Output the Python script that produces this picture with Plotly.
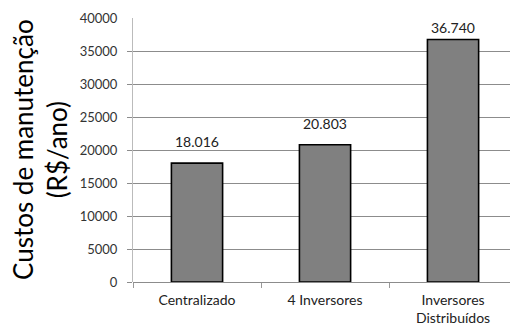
import plotly.graph_objects as go

categories = ["Centralizado", "4 Inversores", "Inversores<br>Distribuídos"]
costs = [18016, 20803, 36740]
cost_labels = ["18.016", "20.803", "36.740"]
y_ticks = [0, 5000, 10000, 15000, 20000, 25000, 30000, 35000, 40000]

FONT = "Lato, 'Open Sans', sans-serif"
GRID = "#8c8c8c"
Y_MAX = 40000
PLOT_H = 327 - 18 - 45  # plot area height in px

fig = go.Figure(
    go.Bar(
        x=categories,
        y=costs,
        width=0.4,
        marker=dict(color="#808080", line=dict(color="#000000", width=1.6)),
    )
)

# value labels above each bar, pulled down when they would leave the plot area
for cat, val, lab in zip(categories, costs, cost_labels):
    room = (Y_MAX - val) * PLOT_H / Y_MAX
    fig.add_annotation(
        x=cat,
        y=val,
        text=lab,
        showarrow=False,
        yanchor="bottom",
        yshift=min(11, room - 20),
        font=dict(size=14, color="#222222", family=FONT),
    )

fig.add_annotation(
    text="Custos de manutenção<br>(R$/ano)",
    xref="paper",
    yref="paper",
    x=0,
    y=0.5,
    xanchor="center",
    yanchor="middle",
    xshift=-93,
    textangle=-90,
    showarrow=False,
    font=dict(size=26, color="#000000", family=FONT),
)

fig.update_layout(
    width=510,
    height=327,
    margin=dict(l=133, r=0, t=18, b=45),
    paper_bgcolor="white",
    plot_bgcolor="white",
    showlegend=False,
    font=dict(family=FONT, size=13, color="#333333"),
    xaxis=dict(
        type="category",
        range=[-0.5, 2.445],
        tickson="boundaries",
        ticks="outside",
        ticklen=5,
        tickcolor="#999999",
        showline=False,
        showgrid=False,
        ticklabelstandoff=8,
        tickfont=dict(size=14, color="#222222"),
    ),
    yaxis=dict(
        range=[0, Y_MAX],
        tickvals=y_ticks,
        ticktext=[str(v) for v in y_ticks],
        showgrid=False,
        ticks="",
        showline=True,
        linecolor="#bbbbbb",
        ticklabelstandoff=12,
        tickfont=dict(size=13, color="#333333"),
        zeroline=True,
        zerolinecolor=GRID,
        zerolinewidth=1,
        minor=dict(
            tickvals=y_ticks[:-1],
            showgrid=True,
            gridcolor=GRID,
            gridwidth=1,
            ticks="outside",
            ticklen=5,
            tickcolor=GRID,
        ),
    ),
)

fig.write_html("out.html")
